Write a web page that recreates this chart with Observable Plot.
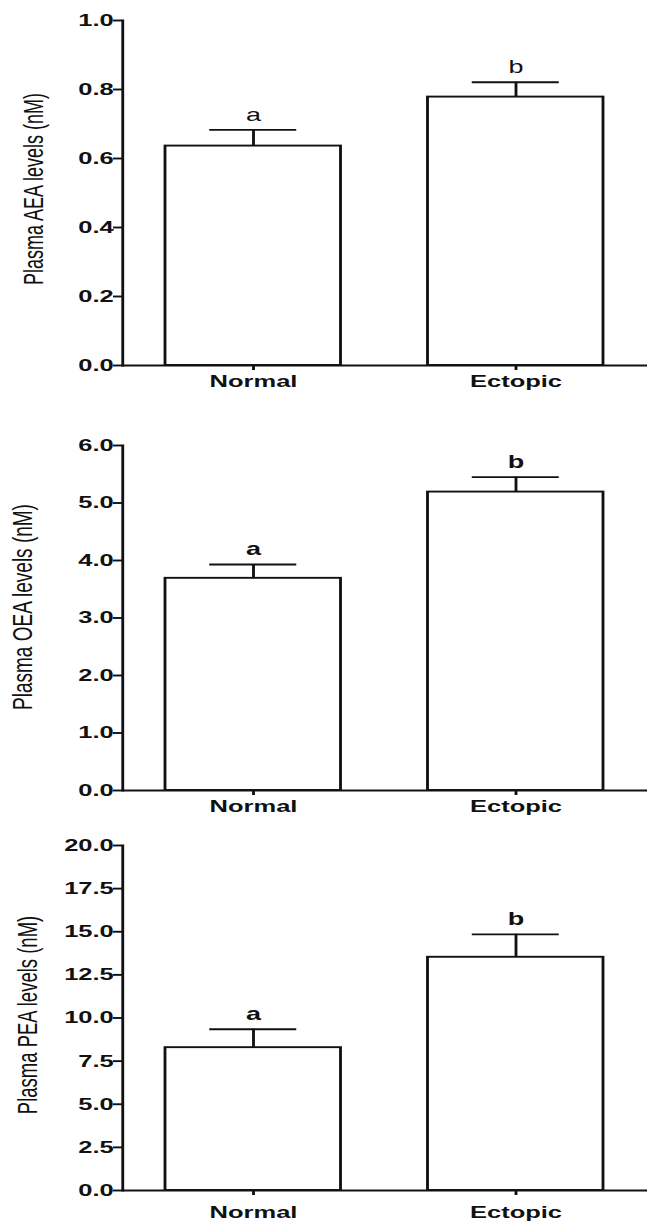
<!DOCTYPE html>
<html>
<head>
<meta charset="utf-8">
<script src="https://cdn.jsdelivr.net/npm/d3@7"></script>
<script src="https://cdn.jsdelivr.net/npm/@observablehq/plot@0.6"></script>
<style>
  html, body { margin: 0; padding: 0; background: #fff; }
  #chart svg { display: block; }
</style>
</head>
<body>
<div id="chart"></div>
<script>
// ---- data ----
const categories = ["Normal", "Ectopic"];
const groupLetters = ["a", "b"];

const aeaMean = [0.636, 0.778];
const aeaErr  = [0.047, 0.043];
const oeaMean = [3.69, 5.19];
const oeaErr  = [0.24, 0.26];
const peaMean = [8.28, 13.52];
const peaErr  = [1.07, 1.33];

const aeaTicks = [0, 0.2, 0.4, 0.6, 0.8, 1.0];
const oeaTicks = [0, 1, 2, 3, 4, 5, 6];
const peaTicks = [0, 2.5, 5, 7.5, 10, 12.5, 15, 17.5, 20];

const aeaLabel = "Plasma AEA levels (nM)";
const oeaLabel = "Plasma OEA levels (nM)";
const peaLabel = "Plasma PEA levels (nM)";

// ---- layout ----
const OUT_W = 647;
const STRETCH = 1.5;           // the figure is horizontally stretched
const W = OUT_W / STRETCH;
const ML = 122 / STRETCH;
const INK = "#111";
const FONT = "'Liberation Sans', Arial, Helvetica, sans-serif";

function panel(o) {
  const data = categories.map((c, i) => ({
    cat: c, mean: o.mean[i], top: o.mean[i] + o.err[i], letter: groupLetters[i]
  }));
  const plot = Plot.plot({
    width: W,
    height: o.height,
    marginLeft: ML,
    marginRight: 0,
    marginTop: o.marginTop,
    marginBottom: o.marginBottom,
    style: { fontFamily: FONT, color: INK, background: "#fff", fontSize: "17px", fontWeight: "bold", overflow: "visible" },
    x: { domain: categories, paddingInner: 0.33, paddingOuter: 0.16, label: null },
    y: { domain: [0, d3.max(o.ticks)], label: null },
    marks: [
      Plot.barY(data, { x: "cat", y: "mean", fill: "white", stroke: INK, strokeWidth: 1.9 }),
      Plot.ruleX(data, { x: "cat", y1: "mean", y2: "top", stroke: INK, strokeWidth: 1.9 }),
      Plot.tickY(data, { x: "cat", y: "top", stroke: INK, strokeWidth: 1.9, insetLeft: 29.5, insetRight: 29.5 }),
      Plot.text(data, { x: "cat", y: "top", text: "letter", dy: -15, lineAnchor: "middle",
        fontSize: 18, fontWeight: o.letterWeight, fill: INK }),
      Plot.axisY({ ticks: o.ticks, tickFormat: d3.format(".1f"), tickSize: 6, tickPadding: 0,
        strokeWidth: 1.9, fontSize: 17, fontWeight: "bold", label: null }),
      Plot.axisX({ tickSize: 5, tickPadding: o.xPad, strokeWidth: 1.9, fontSize: 17, fontWeight: "bold", label: null }),
      Plot.ruleY([0], { stroke: INK, strokeWidth: 1.9 }),
      Plot.frame({ anchor: "left", stroke: INK, strokeWidth: 1.9 }),
      Plot.text([o.label], { frameAnchor: "left", dx: -o.labelOffset, dy: o.labelDy, rotate: -90,
        textAnchor: "middle", lineAnchor: "middle", fontSize: o.labelSize, fontWeight: "normal", fill: INK })
    ]
  });
  plot.setAttribute("width", OUT_W);
  plot.setAttribute("height", o.height);
  plot.setAttribute("preserveAspectRatio", "none");
  plot.style.width = OUT_W + "px";
  plot.style.height = o.height + "px";
  plot.style.maxWidth = "none";
  return plot;
}

const chart = document.getElementById("chart");
chart.append(panel({ mean: aeaMean, err: aeaErr, ticks: aeaTicks, label: aeaLabel,
  height: 420, marginTop: 20, marginBottom: 55, xPad: 4,
  labelOffset: 58.7, labelDy: -4, labelSize: 18, letterWeight: "normal" }));
chart.append(panel({ mean: oeaMean, err: oeaErr, ticks: oeaTicks, label: oeaLabel,
  height: 400, marginTop: 25, marginBottom: 30, xPad: 4,
  labelOffset: 66.7, labelDy: -11, labelSize: 19, letterWeight: "bold" }));
chart.append(panel({ mean: peaMean, err: peaErr, ticks: peaTicks, label: peaLabel,
  height: 403, marginTop: 25, marginBottom: 33, xPad: 10,
  labelOffset: 63.3, labelDy: -3, labelSize: 18.5, letterWeight: "bold" }));
</script>
</body>
</html>
